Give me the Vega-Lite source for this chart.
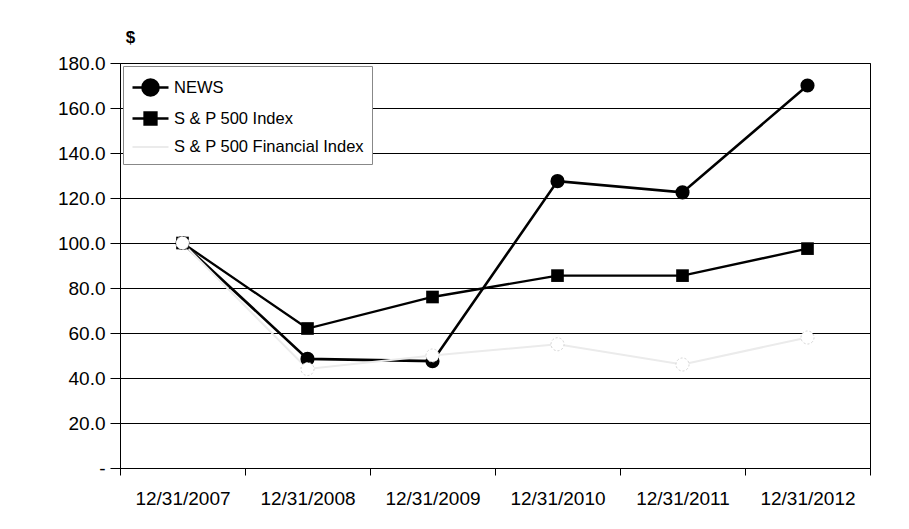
{
  "$schema": "https://vega.github.io/schema/vega-lite/v6.json",
  "width": 750,
  "height": 405,
  "autosize": {"type": "none"},
  "padding": {"left": 120, "top": 63, "right": 39, "bottom": 61},
  "background": "white",
  "config": {"font": "Liberation Sans", "view": {"stroke": "black", "strokeWidth": 1}},
  "data": {"values": [
    {"date": "12/31/2007", "series": "NEWS", "value": 100},
    {"date": "12/31/2008", "series": "NEWS", "value": 48.5},
    {"date": "12/31/2009", "series": "NEWS", "value": 47.5},
    {"date": "12/31/2010", "series": "NEWS", "value": 127.5},
    {"date": "12/31/2011", "series": "NEWS", "value": 122.5},
    {"date": "12/31/2012", "series": "NEWS", "value": 170},
    {"date": "12/31/2007", "series": "S & P 500 Index", "value": 100},
    {"date": "12/31/2008", "series": "S & P 500 Index", "value": 62},
    {"date": "12/31/2009", "series": "S & P 500 Index", "value": 76},
    {"date": "12/31/2010", "series": "S & P 500 Index", "value": 85.5},
    {"date": "12/31/2011", "series": "S & P 500 Index", "value": 85.5},
    {"date": "12/31/2012", "series": "S & P 500 Index", "value": 97.5},
    {"date": "12/31/2007", "series": "S & P 500 Financial Index", "value": 100},
    {"date": "12/31/2008", "series": "S & P 500 Financial Index", "value": 44},
    {"date": "12/31/2009", "series": "S & P 500 Financial Index", "value": 50},
    {"date": "12/31/2010", "series": "S & P 500 Financial Index", "value": 55},
    {"date": "12/31/2011", "series": "S & P 500 Financial Index", "value": 46},
    {"date": "12/31/2012", "series": "S & P 500 Financial Index", "value": 58}
  ]},
  "encoding": {
    "x": {
      "field": "date", "type": "ordinal", "sort": null,
      "scale": {"type": "band", "paddingInner": 0, "paddingOuter": 0},
      "axis": {
        "title": null, "labelAngle": 0, "tickBand": "extent", "tickSize": 7,
        "tickColor": "black", "domainColor": "black", "labelFontSize": 19,
        "labelColor": "black", "labelPadding": 14, "grid": false
      }
    },
    "y": {
      "field": "value", "type": "quantitative",
      "scale": {"domain": [0, 180], "nice": false},
      "axis": {
        "values": [0, 20, 40, 60, 80, 100, 120, 140, 160, 180],
        "labelExpr": "datum.value == 0 ? '-' : format(datum.value, '.1f')",
        "grid": true, "gridColor": "black", "gridOpacity": 1, "gridWidth": 1,
        "tickSize": 10, "tickColor": "black", "domainColor": "black",
        "labelFontSize": 19, "labelColor": "black", "labelPadding": 5,
        "title": "$", "titleAngle": 0, "titleX": 10, "titleY": -17,
        "titleFontSize": 17, "titleFontWeight": "bold", "titleAlign": "center",
        "titleBaseline": "bottom", "titleColor": "black"
      }
    }
  },
  "layer": [
    {
      "mark": {"type": "line"},
      "encoding": {
        "color": {
          "field": "series", "type": "nominal",
          "scale": {"domain": ["NEWS", "S & P 500 Index", "S & P 500 Financial Index"], "range": ["black", "black", "#ebebeb"]},
          "legend": {
            "title": null, "orient": "top-left", "offset": 3,
            "fillColor": "white", "strokeColor": "#888888", "padding": 8,
            "labelFontSize": 16.5, "labelColor": "black", "labelLimit": 400,
            "symbolSize": 576, "symbolStrokeWidth": 2, "rowPadding": 4, "labelOffset": 16,
            "encode": {
              "symbols": {
                "update": {
                  "shape": {"signal": "datum.value == 'NEWS' ? 'M-1,0H2M-0.17,0A0.67,0.67 0 1,1 1.17,0A0.67,0.67 0 1,1 -0.17,0Z' : datum.value == 'S & P 500 Index' ? 'M-1,0H2M0,-0.5H1V0.5H0Z' : 'M-1,0H2'"},
                  "fill": {"signal": "datum.value == 'S & P 500 Financial Index' ? 'transparent' : 'black'"},
                  "stroke": {"signal": "datum.value == 'S & P 500 Financial Index' ? '#ebebeb' : 'black'"},
                  "strokeWidth": {"signal": "datum.value == 'S & P 500 Index' ? 1.5 : 2"}
                }
              }
            }
          }
        },
        "strokeWidth": {
          "field": "series", "type": "nominal",
          "scale": {"domain": ["NEWS", "S & P 500 Index", "S & P 500 Financial Index"], "range": [2.6, 2, 1.5]},
          "legend": null
        }
      }
    },
    {
      "transform": [{"filter": "datum.series == 'NEWS'"}],
      "mark": {"type": "point", "shape": "circle", "filled": true, "color": "black", "size": 200, "opacity": 1}
    },
    {
      "transform": [{"filter": "datum.series == 'S & P 500 Index'"}],
      "mark": {"type": "point", "shape": "square", "filled": true, "color": "black", "size": 160, "opacity": 1}
    },
    {
      "transform": [{"filter": "datum.series == 'S & P 500 Financial Index'"}],
      "mark": {"type": "point", "shape": "circle", "filled": true, "fill": "white", "fillOpacity": 1, "stroke": "#d2d2d2", "strokeWidth": 1, "strokeDash": [2, 2], "size": 170, "opacity": 1}
    }
  ]
}
